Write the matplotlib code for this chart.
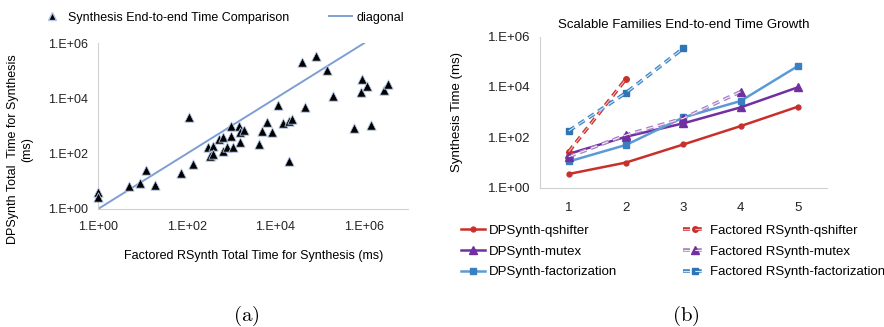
import matplotlib

matplotlib.use("Agg")
import matplotlib.pyplot as plt
from matplotlib.lines import Line2D

plt.rcParams["font.family"] = ["Liberation Sans", "DejaVu Sans"]
plt.rcParams["mathtext.fontset"] = "cm"
plt.rcParams["lines.scale_dashes"] = False

# (a) scatter: log10 of factored RSynth time (x) and DPSynth time (y), ms
scatter_logx = [0.00, 0.00, 0.70, 0.95, 1.08, 1.28, 1.86, 2.04, 2.14, 2.48, 2.59,
                2.55, 2.52, 2.60, 2.73, 2.82, 2.82, 2.91, 3.00, 3.00, 3.04, 3.17,
                3.19, 3.21, 3.30, 3.63, 3.70, 3.81, 3.92, 4.05, 4.16, 4.30, 4.31,
                4.37, 4.59, 4.67, 4.91, 5.16, 5.30, 5.78, 5.93, 5.95, 6.07, 6.15,
                6.45, 6.54]
scatter_logy = [0.63, 0.45, 0.83, 0.93, 1.41, 0.87, 1.31, 3.31, 1.61, 2.23, 2.28,
                1.95, 1.90, 2.00, 2.52, 2.61, 2.10, 2.23, 2.64, 3.00, 2.25, 3.00,
                2.80, 2.43, 2.86, 2.34, 2.83, 3.16, 2.77, 3.78, 3.10, 1.73, 3.18,
                3.25, 5.33, 3.70, 5.53, 5.02, 4.10, 2.92, 4.24, 4.69, 4.45, 3.04,
                4.30, 4.54]
diag = [1, 1e6]

# (b) scalable families, ms
sizes = [1, 2, 3, 4, 5]
dp_qshifter = [3.5, 10, 52, 280, 1650]
fr_qshifter = [27, 21000]
dp_mutex = [22, 106, 360, 1550, 9700]
fr_mutex = [17, 124, 570, 6500]
dp_fact = [11, 50, 620, 2770, 68000]
fr_fact = [180, 5900, 345000]

RED = "#C9302C"
PURPLE = "#7030A0"
LBLUE = "#5B9BD5"
BLUE = "#2E75B6"
GRAY = "#D0D0D0"
FS = 9
DASH = (0, (5, 3.5))

fig = plt.figure(figsize=(8.84, 3.27), dpi=100)

# ---------------- (a) ----------------
ax1 = fig.add_axes([0.111, 0.361, 0.351, 0.507])
ax1.set_xscale("log")
ax1.set_yscale("log")
ax1.plot(diag, diag, color="#7F9FD4", lw=1.4, zorder=2)
xs = [10 ** v for v in scatter_logx]
ys = [10 ** v for v in scatter_logy]
ax1.scatter(xs, ys, marker="^", s=45, c="black", edgecolors="#B4C7E7",
            linewidths=0.6, zorder=3, clip_on=False)
ax1.set_xlim(1, 1e7)
ax1.set_ylim(1, 1e6)
ax1.set_xticks([1, 1e2, 1e4, 1e6])
ax1.set_xticklabels(["1.E+00", "1.E+02", "1.E+04", "1.E+06"])
ax1.set_yticks([1, 1e2, 1e4, 1e6])
ax1.set_yticklabels(["1.E+00", "1.E+02", "1.E+04", "1.E+06"])
ax1.minorticks_off()
ax1.tick_params(length=0, labelsize=FS, colors="#222222")
ax1.tick_params(axis="x", pad=9)
ax1.tick_params(axis="y", pad=7)
for s in ["top", "right"]:
    ax1.spines[s].set_visible(False)
for s in ["left", "bottom"]:
    ax1.spines[s].set_color(GRAY)
ax1.set_xlabel("Factored RSynth Total Time for Synthesis (ms)", fontsize=FS,
               labelpad=12)
ax1.set_ylabel("DPSynth Total  Time for Synthesis\n(ms)", fontsize=FS)
ax1.yaxis.set_label_coords(-0.21, 0.36)
h1 = [Line2D([], [], ls="", marker="^", ms=6, color="black", mec="#B4C7E7"),
      Line2D([], [], color="#7F9FD4", lw=1.4)]
ax1.legend(h1, ["Synthesis End-to-end Time Comparison", "diagonal"],
           loc="lower center", bbox_to_anchor=(0.40, 1.08), ncol=2,
           frameon=False, fontsize=FS, columnspacing=3.2, handlelength=1.8,
           handletextpad=0.4, borderpad=0)

# ---------------- (b) ----------------
ax2 = fig.add_axes([0.611, 0.426, 0.324, 0.462])
ax2.set_yscale("log")


def dashed(x, y, outer, inner, marker, ms, mcol):
    a, = ax2.plot(x, y, color=outer, lw=2.6, ls=DASH, marker=marker, ms=ms,
                  mfc=mcol, mec=mcol, zorder=3)
    b, = ax2.plot(x, y, color=inner, lw=0.8, ls=DASH, zorder=3.1)
    return (a, b)


l1, = ax2.plot(sizes, dp_qshifter, color=RED, lw=1.8, marker="o", ms=3.5)
l2 = dashed(sizes[:len(fr_qshifter)], fr_qshifter, RED, "#F2B8B5", "o", 4, RED)
l3, = ax2.plot(sizes, dp_mutex, color=PURPLE, lw=1.8, marker="^", ms=5.5)
l4 = dashed(sizes[:len(fr_mutex)], fr_mutex, "#A67FC8", "#F3ECF8", "^", 5.5, PURPLE)
l5, = ax2.plot(sizes, dp_fact, color=LBLUE, lw=1.8, marker="s", ms=4.5,
               mfc="#3A7FC1", mec="#3A7FC1")
l6 = dashed(sizes[:len(fr_fact)], fr_fact, "#3D85C6", "#D6E6F5", "s", 4.5, "#2E75B6")
ax2.set_xlim(0.5, 5.5)
ax2.set_ylim(1, 1e6)
ax2.set_xticks(sizes)
ax2.set_yticks([1, 1e2, 1e4, 1e6])
ax2.set_yticklabels(["1.E+00", "1.E+02", "1.E+04", "1.E+06"])
ax2.minorticks_off()
ax2.tick_params(length=0, labelsize=9.5, colors="#222222")
ax2.tick_params(axis="x", pad=10)
ax2.tick_params(axis="y", pad=7)
for s in ["top", "right"]:
    ax2.spines[s].set_visible(False)
for s in ["left", "bottom"]:
    ax2.spines[s].set_color(GRAY)
ax2.set_ylabel("Synthesis Time (ms)", fontsize=9.5, labelpad=18)
ax2.set_title("Scalable Families End-to-end Time Growth", fontsize=9.5, pad=6)
ax2.legend([l1, l3, l5, l2, l4, l6],
           ["DPSynth-qshifter", "DPSynth-mutex", "DPSynth-factorization",
            "Factored RSynth-qshifter", "Factored RSynth-mutex",
            "Factored RSynth-factorization"],
           loc="upper left", bbox_to_anchor=(-0.30, -0.2), ncol=2,
           frameon=False, fontsize=9.5, columnspacing=5.0, handlelength=1.8,
           handletextpad=0.3, labelspacing=0.65, borderpad=0)

fig.text(0.279, 0.018, r"$\mathrm{(a)}$", ha="center", va="baseline", fontsize=15)
fig.text(0.776, 0.018, r"$\mathrm{(b)}$", ha="center", va="baseline", fontsize=15)

fig.savefig("out.png", dpi=100)
